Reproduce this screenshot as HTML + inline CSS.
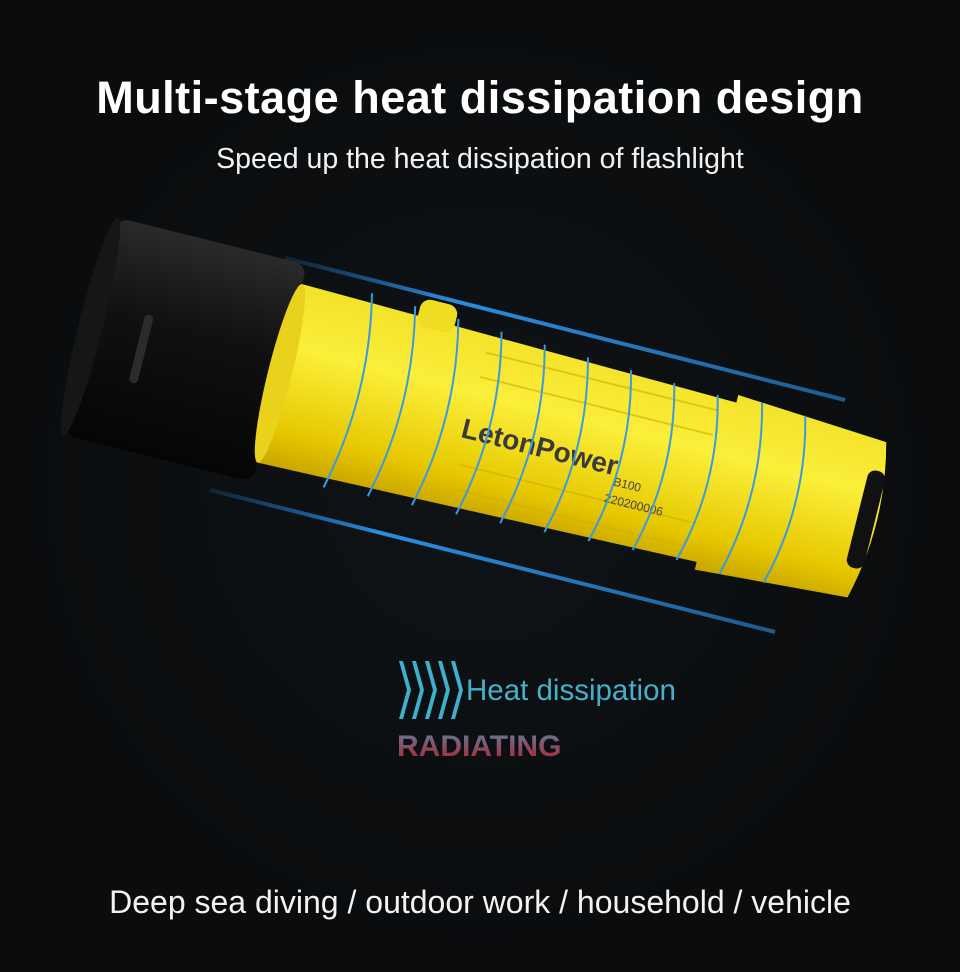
<!DOCTYPE html>
<html><head><meta charset="utf-8"><style>
html,body{margin:0;padding:0;background:#0b0e10;}
body{width:960px;height:972px;position:relative;overflow:hidden;font-family:"Liberation Sans",sans-serif;}
.t{position:absolute;left:0;width:960px;text-align:center;color:#fff;}
</style></head><body>
<div style="position:absolute;left:0;top:0;width:960px;height:972px;background:radial-gradient(ellipse at 50% 50%,#101416 0%,#0a0c0e 70%);"></div>
<div class="t" style="top:72px;font-size:45px;font-weight:bold;letter-spacing:0.5px;">Multi-stage heat dissipation design</div>
<div class="t" style="top:143px;font-size:28.5px;color:#f2f2f2;">Speed up the heat dissipation of flashlight</div>
<svg width="960" height="972" style="position:absolute;left:0;top:0">
<defs>
<linearGradient id="hd" x1="0" y1="0" x2="0" y2="1"><stop offset="0" stop-color="#2a2a2a"/><stop offset="0.4" stop-color="#111"/><stop offset="1" stop-color="#050505"/></linearGradient>
<linearGradient id="yb" x1="0" y1="0" x2="0" y2="1"><stop offset="0" stop-color="#f3e22a"/><stop offset="0.35" stop-color="#fbef3a"/><stop offset="0.8" stop-color="#e6c800"/><stop offset="1" stop-color="#c9a600"/></linearGradient>
<linearGradient id="rad" x1="0" y1="0" x2="0" y2="1"><stop offset="0" stop-color="#5a7fa0"/><stop offset="1" stop-color="#b3202c"/></linearGradient>
<linearGradient id="bl" x1="0" y1="0" x2="1" y2="0"><stop offset="0" stop-color="#1e6fc0" stop-opacity="0.2"/><stop offset="0.3" stop-color="#2a8de0"/><stop offset="1" stop-color="#2a8de0" stop-opacity="0.6"/></linearGradient>
</defs>
<line x1="285" y1="258" x2="845" y2="400" stroke="url(#bl)" stroke-width="4"/>
<line x1="210" y1="490" x2="775" y2="632" stroke="url(#bl)" stroke-width="4"/>
<g transform="translate(178,348) rotate(14)">
 <rect x="-90" y="-112" width="195" height="224" rx="12" fill="url(#hd)"/>
 <ellipse cx="-90" cy="0" rx="12" ry="112" fill="#161616"/>
 <rect x="-40" y="-25" width="9" height="70" rx="4" fill="#2b2b2b"/>
 <path d="M105,-92 L560,-82 L560,82 L105,92 Z" fill="url(#yb)"/>
 <ellipse cx="105" cy="0" rx="12" ry="92" fill="#e8d21c"/>
 <rect x="225" y="-108" width="38" height="28" rx="10" fill="#f0dc20"/>
 <g fill="none" stroke="#d2b000" stroke-width="2" opacity="0.6">
  <path d="M300,-70 H540 M300,-45 H540 M300,45 H540 M300,70 H540"/>
 </g>
 <path d="M555,-90 L710,-80 Q730,0 710,80 L555,90 Z" fill="url(#yb)"/>
 <rect x="700" y="-50" width="18" height="100" rx="8" fill="#111"/>
 <text x="295" y="18" font-family="Liberation Sans" font-weight="bold" font-size="28" fill="#3a3a3a">LetonPower</text>
 <text x="455" y="28" font-family="Liberation Sans" font-size="12" fill="#444">B100</text>
 <text x="450" y="46" font-family="Liberation Sans" font-size="12" fill="#444">220200006</text>
 <g fill="none" stroke="#3a9ae0" stroke-width="2">
  <path d="M175,-100 Q198,0 175,100"/><path d="M220,-98 Q243,0 220,98"/><path d="M265,-96 Q288,0 265,96"/>
  <path d="M310,-94 Q333,0 310,94"/><path d="M355,-92 Q378,0 355,92"/><path d="M400,-90 Q423,0 400,90"/>
  <path d="M445,-88 Q468,0 445,88"/><path d="M490,-86 Q513,0 490,86"/><path d="M535,-85 Q558,0 535,85"/>
  <path d="M580,-88 Q603,0 580,88"/><path d="M625,-86 Q648,0 625,86"/>
 </g>
</g>
<g fill="#3fb0cc">
 <path d="M399,661 L407,690 L399,719 L403,719 L411,690 L403,661Z"/>
 <path d="M412,661 L420,690 L412,719 L416,719 L424,690 L416,661Z"/>
 <path d="M425,661 L433,690 L425,719 L429,719 L437,690 L429,661Z"/>
 <path d="M438,661 L446,690 L438,719 L442,719 L450,690 L442,661Z"/>
 <path d="M451,661 L459,690 L451,719 L455,719 L463,690 L455,661Z"/>
</g>
<text x="466" y="700" font-family="Liberation Sans" font-size="29.5" fill="#45b0c8">Heat dissipation</text>
<text x="397" y="756" font-family="Liberation Sans" font-weight="bold" font-size="30" fill="url(#rad)">RADIATING</text>
</svg>
<div class="t" style="top:884px;font-size:32px;color:#f2f2f2;">Deep sea diving / outdoor work / household / vehicle</div>
</body></html>
